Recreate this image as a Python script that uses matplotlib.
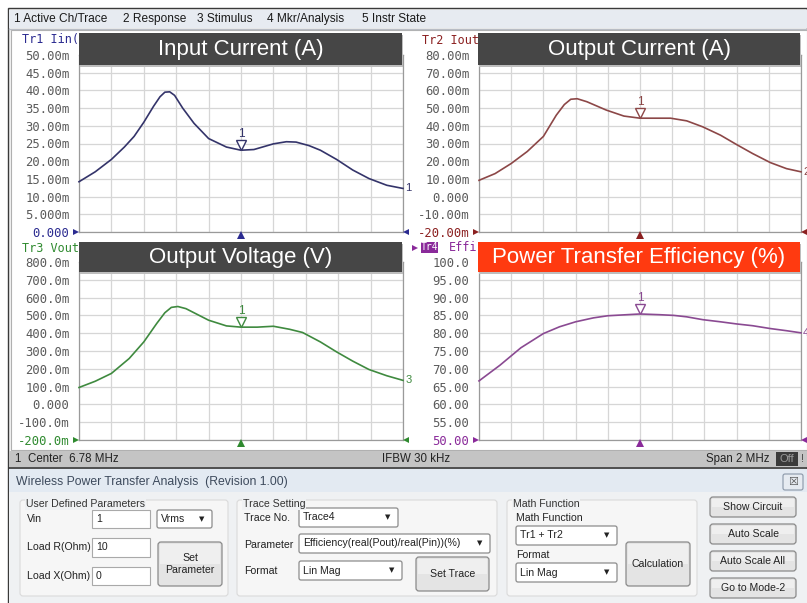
import numpy as np
import matplotlib
matplotlib.use("Agg")
import matplotlib.pyplot as plt
import matplotlib.transforms as mtransforms
from matplotlib.patches import Rectangle, FancyBboxPatch

W, H = 807, 603

# stimulus
center_mhz = 6.78
span_mhz = 2.0
marker_mhz = 6.78

# Tr1 input current (mA)
iin_freq = [5.78, 5.88, 5.98, 6.06, 6.12, 6.18, 6.24, 6.28, 6.31, 6.34, 6.37, 6.42,
            6.49, 6.58, 6.69, 6.78, 6.86, 6.98, 7.06, 7.12, 7.20, 7.27, 7.37,
            7.47, 7.57, 7.68, 7.78]
iin_ma = [14.2, 17.0, 20.5, 24.0, 27.0, 31.0, 35.5, 38.2, 39.5, 39.6, 38.6, 35.0,
          30.7, 26.4, 24.0, 23.1, 23.3, 24.9, 25.5, 25.4, 24.4, 23.1, 20.5,
          17.5, 15.1, 13.2, 12.3]

# Tr2 output current (mA)
iout_freq = [5.78, 5.88, 5.98, 6.08, 6.18, 6.26, 6.31, 6.35, 6.39, 6.45, 6.57, 6.68,
             6.78, 6.86, 6.97, 7.07, 7.17, 7.28, 7.38, 7.48, 7.59, 7.69, 7.78]
iout_ma = [9.2, 13.0, 18.7, 25.5, 34.0, 46.0, 52.0, 55.0, 55.3, 53.6, 48.9, 45.5,
           44.3, 44.3, 44.3, 42.8, 39.4, 34.7, 29.4, 24.3, 19.2, 15.8, 14.0]

# Tr3 output voltage (mV)
vout_freq = [5.78, 5.88, 5.98, 6.09, 6.18, 6.26, 6.31, 6.35, 6.39, 6.44, 6.58, 6.69,
             6.78, 6.88, 6.98, 7.08, 7.16, 7.27, 7.37, 7.47, 7.57, 7.68, 7.78]
vout_mv = [95, 130, 174, 258, 351, 455, 515, 545, 550, 538, 473, 441,
           434, 434, 439, 422, 404, 351, 295, 243, 196, 161, 135]

# Tr4 efficiency (%)
eff_freq = [5.78, 5.91, 6.04, 6.18, 6.28, 6.38, 6.49, 6.58, 6.70, 6.78,
            6.90, 6.99, 7.07, 7.17, 7.28, 7.38, 7.48, 7.59, 7.69, 7.78]
eff_pct = [66.6, 71.0, 75.9, 79.9, 81.8, 83.2, 84.3, 84.9, 85.2, 85.4,
           85.2, 85.0, 84.6, 83.8, 83.2, 82.6, 82.1, 81.3, 80.7, 80.1]

iin_ticks = [0, 5, 10, 15, 20, 25, 30, 35, 40, 45, 50]
iin_labels = ["0.000", "5.000m", "10.00m", "15.00m", "20.00m", "25.00m",
              "30.00m", "35.00m", "40.00m", "45.00m", "50.00m"]
iout_ticks = [-20, -10, 0, 10, 20, 30, 40, 50, 60, 70, 80]
iout_labels = ["-20.00m", "-10.00m", "0.000", "10.00m", "20.00m", "30.00m",
               "40.00m", "50.00m", "60.00m", "70.00m", "80.00m"]
vout_ticks = [-200, -100, 0, 100, 200, 300, 400, 500, 600, 700, 800]
vout_labels = ["-200.0m", "-100.0m", "0.000", "100.0m", "200.0m", "300.0m",
               "400.0m", "500.0m", "600.0m", "700.0m", "800.0m"]
eff_ticks = [50, 55, 60, 65, 70, 75, 80, 85, 90, 95, 100]
eff_labels = ["50.00", "55.00", "60.00", "65.00", "70.00", "75.00",
              "80.00", "85.00", "90.00", "95.00", "100.0"]

GUI = "Liberation Sans"
MONO = "DejaVu Sans Mono"

fig = plt.figure(figsize=(W / 100, H / 100), dpi=100)
fig.patch.set_facecolor("white")


def px_axes(x0, y0, x1, y1, z):
    return fig.add_axes([x0 / W, 1 - y1 / H, (x1 - x0) / W, (y1 - y0) / H], zorder=z)


bg = px_axes(0, 0, W, H, 0)
top = px_axes(0, 0, W, H, 5)
for a in (bg, top):
    a.set_xlim(0, W)
    a.set_ylim(H, 0)
    a.axis("off")
top.patch.set_alpha(0)


def rect(a, x0, y0, x1, y1, fc, ec="none", lw=0.8, z=1):
    a.add_patch(Rectangle((x0, y0), x1 - x0, y1 - y0, fc=fc, ec=ec, lw=lw, zorder=z))


def rbox(a, x0, y0, x1, y1, fc, ec, lw=0.8, r=2.5, z=1):
    a.add_patch(FancyBboxPatch((x0, y0), x1 - x0, y1 - y0,
                               boxstyle="round,pad=0,rounding_size=%s" % r,
                               fc=fc, ec=ec, lw=lw, zorder=z))


def txt(a, x, y, s, size=8, color="#222222", ha="left", va="center", family=GUI, **kw):
    a.text(x, y, s, fontsize=size, color=color, ha=ha, va=va, family=family, **kw)


# window frame, menu bar, plot area
rect(bg, 8, 8, W, H, "#f2f2f2", ec="#3a3a3a", lw=1.0)
rect(bg, 9, 10, W, 28, "#e7ebf1")
bg.plot([9, W], [28.5, 28.5], color="#b8bcc4", lw=1)
menu = ["1 Active Ch/Trace", "2 Response", "3 Stimulus", "4 Mkr/Analysis", "5 Instr State"]
menu_x = [14, 123, 197, 267, 362]
for s, x in zip(menu, menu_x):
    txt(bg, x, 19, s, size=8.6, color="#1a1a1a")
rect(bg, 11, 30, W, 450, "white", ec="#b0b0b0", lw=0.8)

# status bar
rect(bg, 9, 451, W, 467, "#c4c4c4")
bg.plot([9, W], [467.5, 467.5], color="#333333", lw=1.2)
txt(bg, 14, 459, "1", size=8.3)
txt(bg, 28, 459, "Center  6.78 MHz", size=8.3)
txt(bg, 382, 459, "IFBW 30 kHz", size=8.3)
txt(bg, 770, 459, "Span 2 MHz", size=8.3, ha="right")
rect(bg, 776, 452, 798, 466, "#3a3a3a")
txt(bg, 787, 459, "Off", size=8, color="#9a9a9a", ha="center")
txt(bg, 802, 459, "!", size=8, color="#444444", ha="center")

panels = [
    dict(box=(79, 55, 403, 232), freq=iin_freq, vals=iin_ma, ticks=iin_ticks,
         labels=iin_labels, color="#34346a", tcol="#2b2b90", trace="Tr1 Iin(",
         title="Input Current (A)", hcol="#464646", hbox=(79, 33, 402, 65), num="1"),
    dict(box=(479, 55, 801, 232), freq=iout_freq, vals=iout_ma, ticks=iout_ticks,
         labels=iout_labels, color="#8c4747", tcol="#8b2020", trace="Tr2 Iout",
         title="Output Current (A)", hcol="#464646", hbox=(478, 33, 800, 65), num="2"),
    dict(box=(79, 262, 403, 440), freq=vout_freq, vals=vout_mv, ticks=vout_ticks,
         labels=vout_labels, color="#3f8a3f", tcol="#2f8a2f", trace="Tr3 Vout",
         title="Output Voltage (V)", hcol="#464646", hbox=(79, 242, 402, 272), num="3"),
    dict(box=(479, 262, 801, 440), freq=eff_freq, vals=eff_pct, ticks=eff_ticks,
         labels=eff_labels, color="#8a4a92", tcol="#8a2a9a", trace="Tr4 Effi",
         title="Power Transfer Efficiency (%)", hcol="#ff3a10", hbox=(478, 242, 800, 272), num="4"),
]

f0 = center_mhz - span_mhz / 2
f1 = center_mhz + span_mhz / 2
xgrid = np.linspace(f0, f1, 11)

for p in panels:
    x0, y0, x1, y1 = p["box"]
    ax = px_axes(x0, y0, x1, y1, 2)
    ax.set_facecolor("white")
    ax.set_xlim(f0, f1)
    ax.set_ylim(p["ticks"][0], p["ticks"][-1])
    ax.set_xticks(xgrid)
    ax.set_xticklabels([])
    ax.set_yticks(p["ticks"])
    ax.set_yticklabels(p["labels"], family=MONO, fontsize=8.8, color="#5a5a5a")
    ax.get_yticklabels()[0].set_color(p["tcol"])
    ax.tick_params(length=0, pad=7)
    ax.grid(True, color="#d6d6d6", lw=0.9)
    ax.set_axisbelow(True)
    for s in ax.spines.values():
        s.set_color("#9a9a9a")
        s.set_linewidth(0.9)
    ax.plot(p["freq"], p["vals"], color=p["color"], lw=1.2, clip_on=False, zorder=3)

    # marker 1
    mv = np.interp(marker_mhz, p["freq"], p["vals"])
    tri = mtransforms.offset_copy(ax.transData, fig=fig, x=0, y=3.6, units="points")
    ax.plot(marker_mhz, mv, marker="v", ms=7.5, mfc="white", mec=p["color"],
            mew=1.0, transform=tri, clip_on=False, zorder=4)
    ax.annotate("1", xy=(marker_mhz, mv), xytext=(0, 7.5), textcoords="offset points",
                ha="center", va="bottom", fontsize=8.5, color=p["color"], family=GUI)
    # trace number at right end (partly cut off at the window edge, as on screen)
    ax.annotate(p["num"], xy=(p["freq"][-1], p["vals"][-1]), xytext=(1.5, 0),
                textcoords="offset points", ha="left", va="center", fontsize=8,
                color=p["color"], family=GUI, annotation_clip=False)

    # reference / scale arrows
    top.plot(x0 - 3, y1, marker=">", ms=5, color=p["tcol"], mew=0)
    top.plot(x1 + 3, y1, marker="<", ms=5, color=p["tcol"], mew=0)
    top.plot((x0 + x1) / 2, y1 + 3, marker="^", ms=5.5, color=p["tcol"], mew=0)

    # trace label and header bar
    hx0, hy0, hx1, hy1 = p["hbox"]
    if p["num"] == "4":
        top.plot(x0 - 64, hy0 + 5.5, marker=">", ms=5, color=p["tcol"], mew=0)
        rect(bg, x0 - 58, hy0, x0 - 41, hy0 + 11, p["tcol"], z=2)
        txt(bg, x0 - 49.5, hy0 + 5.5, "Tr4", size=7, color="white", family=MONO,
            ha="center", zorder=3)
        txt(bg, x0 - 30, hy0 + 5.5, "Effi", size=8.5, color=p["tcol"], family=MONO, zorder=3)
    else:
        txt(bg, x0 - 57, hy0 + 7, p["trace"], size=8.5, color=p["tcol"], family=MONO, zorder=3)
    rect(top, hx0 + 1, hy0 + 2, hx1 + 1, hy1 + 2, "#bdbdbd", z=1)
    rect(top, hx0, hy0, hx1, hy1, p["hcol"], z=2)
    txt(top, (hx0 + hx1) / 2, (hy0 + hy1) / 2 + 1, p["title"], size=16,
        color="white", ha="center", family="Liberation Sans", zorder=3)

# ---- bottom tool panel ----
rect(bg, 9, 469, W, H, "#eff1f3")
rect(bg, 9, 469, W, 492, "#e3eaf2")
txt(bg, 16, 482, "Wireless Power Transfer Analysis  (Revision 1.00)", size=8.8, color="#3d4a5c")
rbox(bg, 783, 474, 803, 490, "#e6ebf1", "#8a97a8", r=2)
txt(bg, 793, 482, "\u2612", size=8, color="#555555", ha="center", family="DejaVu Sans")


def textbox(x0, y0, x1, y1, s):
    rect(bg, x0, y0, x1, y1, "white", ec="#a9a9a9", lw=0.8, z=3)
    txt(bg, x0 + 4, (y0 + y1) / 2, s, size=7.6, zorder=4)


def dropdown(x0, y0, x1, y1, s):
    rbox(bg, x0, y0, x1, y1, "white", "#8c8c8c", lw=0.9, r=2, z=3)
    txt(bg, x0 + 4, (y0 + y1) / 2, s, size=7.6, zorder=4)
    txt(bg, x1 - 10, (y0 + y1) / 2, "\u25bc", size=5, color="#222222", ha="center",
        family="DejaVu Sans", zorder=4)


def button(x0, y0, x1, y1, s):
    rbox(bg, x0, y0, x1, y1, "#e4e4e4", "#8a8a8a", lw=0.9, r=3, z=3)
    rect(bg, x0 + 2, y0 + 2, x1 - 2, (y0 + y1) / 2, "#efefef", z=3)
    txt(bg, (x0 + x1) / 2, (y0 + y1) / 2, s, size=7.6, ha="center", zorder=4,
        linespacing=1.15)


def group(x0, y0, x1, y1, title):
    rbox(bg, x0, y0, x1, y1, "#f6f6f6", "#dadada", lw=0.8, r=3, z=2)
    txt(bg, x0 + 6, y0 + 4, title, size=7.6, color="#333333", zorder=4,
        bbox=dict(fc="#eff1f3", ec="none", pad=0.5))


group(20, 500, 228, 596, "User Defined Parameters")
txt(bg, 27, 519, "Vin", size=7.6, zorder=4)
textbox(92, 510, 150, 528, "1")
dropdown(157, 510, 212, 528, "Vrms")
txt(bg, 27, 547, "Load R(Ohm)", size=7.6, zorder=4)
textbox(92, 538, 150, 557, "10")
txt(bg, 27, 576, "Load X(Ohm)", size=7.6, zorder=4)
textbox(92, 567, 150, 585, "0")
button(158, 542, 222, 586, "Set\nParameter")

group(237, 500, 497, 596, "Trace Setting")
txt(bg, 244, 518, "Trace No.", size=7.6, zorder=4)
dropdown(299, 508, 398, 527, "Trace4")
txt(bg, 244, 545, "Parameter", size=7.6, zorder=4)
dropdown(299, 534, 490, 553, "Efficiency(real(Pout)/real(Pin))(%)")
txt(bg, 244, 571, "Format", size=7.6, zorder=4)
dropdown(299, 561, 402, 580, "Lin Mag")
button(416, 557, 489, 591, "Set Trace")

group(507, 500, 697, 596, "Math Function")
txt(bg, 516, 518, "Math Function", size=7.6, zorder=4)
dropdown(516, 526, 617, 545, "Tr1 + Tr2")
txt(bg, 516, 555, "Format", size=7.6, zorder=4)
dropdown(516, 563, 617, 582, "Lin Mag")
button(626, 542, 690, 586, "Calculation")

side = ["Show Circuit", "Auto Scale", "Auto Scale All", "Go to Mode-2"]
for i, s in enumerate(side):
    y = 497 + i * 27
    button(710, y, 796, y + 20, s)

fig.savefig("out.png", dpi=100)
